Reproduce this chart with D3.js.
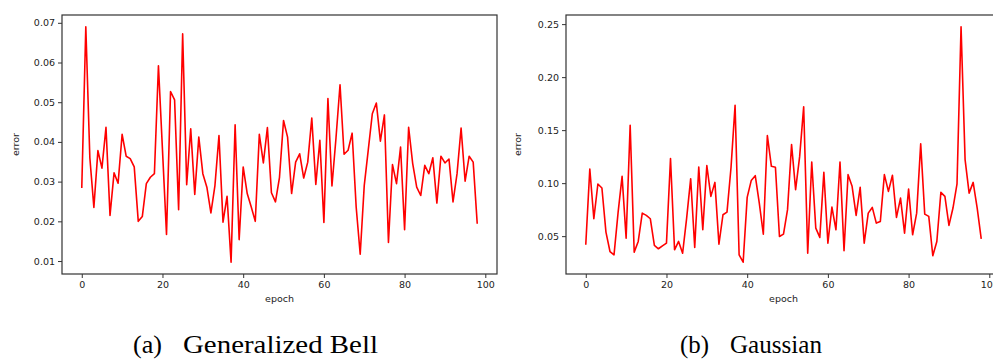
<!DOCTYPE html>
<html lang="en">

<head>
    <meta charset="utf-8">
    <title>Error per epoch: Generalized Bell vs Gaussian</title>
    <script src="https://d3js.org/d3.v7.min.js"></script>
    <style type="text/css">
        body { margin: 0; background: #fff; }
        .tick text { font-family: "DejaVu Sans", sans-serif; font-size: 9.5px; fill: #222; }
        .lbl { font-family: "DejaVu Sans", sans-serif; font-size: 9.5px; fill: #222; }
        .cap { font-family: "Liberation Serif", "Times New Roman", serif; font-size: 26px; fill: #000; }
    </style>
</head>

<body>
    <script type="text/javascript">

        //Width and height
        var w = 993;
        var h = 360;

        // error per epoch (epoch 0..98)
        var bellError = [0.0284, 0.0690, 0.0360, 0.0235, 0.0378, 0.0334, 0.0437, 0.0215, 0.0322, 0.0296,
            0.0419, 0.0364, 0.0358, 0.0337, 0.0200, 0.0212, 0.0295, 0.0311, 0.0320, 0.0592,
            0.0380, 0.0167, 0.0527, 0.0506, 0.0229, 0.0672, 0.0292, 0.0433, 0.0268, 0.0412,
            0.0320, 0.0286, 0.0221, 0.0290, 0.0416, 0.0198, 0.0263, 0.0097, 0.0443, 0.0154,
            0.0337, 0.0270, 0.0236, 0.0200, 0.0419, 0.0347, 0.0436, 0.0272, 0.0249, 0.0311,
            0.0454, 0.0412, 0.0270, 0.0349, 0.0370, 0.0309, 0.0349, 0.0460, 0.0293, 0.0404,
            0.0197, 0.0509, 0.0289, 0.0410, 0.0544, 0.0369, 0.0379, 0.0422, 0.0236, 0.0117,
            0.0290, 0.0380, 0.0471, 0.0498, 0.0402, 0.0468, 0.0147, 0.0343, 0.0295, 0.0387,
            0.0179, 0.0437, 0.0346, 0.0286, 0.0265, 0.0341, 0.0320, 0.0360, 0.0246, 0.0364,
            0.0347, 0.0357, 0.0249, 0.0320, 0.0435, 0.0301, 0.0364, 0.0349, 0.0194];

        var gaussError = [0.0419, 0.1133, 0.0664, 0.0992, 0.0954, 0.0538, 0.0355, 0.0324, 0.0720, 0.1064,
            0.0480, 0.1546, 0.0349, 0.0450, 0.0717, 0.0696, 0.0664, 0.0412, 0.0381, 0.0409,
            0.0434, 0.1232, 0.0371, 0.0450, 0.0339, 0.0670, 0.1042, 0.0393, 0.1152, 0.0560,
            0.1165, 0.0875, 0.1007, 0.0424, 0.0702, 0.0727, 0.1150, 0.1735, 0.0324, 0.0254,
            0.0866, 0.1024, 0.1070, 0.0812, 0.0519, 0.1449, 0.1159, 0.1150, 0.0497, 0.0519,
            0.0750, 0.1364, 0.0938, 0.1250, 0.1720, 0.0339, 0.1200, 0.0576, 0.0488, 0.1102,
            0.0434, 0.0774, 0.0560, 0.1200, 0.0362, 0.1080, 0.0970, 0.0696, 0.0960, 0.0434,
            0.0717, 0.0771, 0.0623, 0.0639, 0.1080, 0.0922, 0.1074, 0.0677, 0.0859, 0.0528,
            0.0944, 0.0513, 0.0717, 0.1370, 0.0708, 0.0686, 0.0315, 0.0450, 0.0913, 0.0875,
            0.0601, 0.0765, 0.0992, 0.2475, 0.1222, 0.0906, 0.1007, 0.0765, 0.0475];

        var xTicks = [0, 20, 40, 60, 80, 100];
        var bellYTicks = [0.01, 0.02, 0.03, 0.04, 0.05, 0.06, 0.07];
        var gaussYTicks = [0.05, 0.10, 0.15, 0.20, 0.25];
        var captions = [["(a)", "Generalized Bell"], ["(b)", "Gaussian"]];

        var svg = d3.select("body")
            .append("svg")
            .attr("width", w)
            .attr("height", h);

        // one panel per series; the right one runs off the page edge like the original
        var panels = [
            { data: bellError, ticks: bellYTicks, fmt: ".2f", left: 62, right: 497, labelX: 16 },
            { data: gaussError, ticks: gaussYTicks, fmt: ".2f", left: 566, right: 1001, labelX: 518 }
        ];
        var plotTop = 15, plotBottom = 274;

        panels.forEach(function (p, k) {
            var n = p.data.length;
            // matplotlib style 5% margins
            var xPad = (n - 1) * 0.05;
            var ext = d3.extent(p.data);
            var yPad = (ext[1] - ext[0]) * 0.05;

            var xScale = d3.scaleLinear()
                .domain([-xPad, n - 1 + xPad])
                .range([p.left, p.right]);

            var yScale = d3.scaleLinear()
                .domain([ext[0] - yPad, ext[1] + yPad])
                .range([plotBottom, plotTop]);

            var g = svg.append("g");

            g.append("g")
                .attr("transform", "translate(0," + plotBottom + ")")
                .call(d3.axisBottom(xScale).tickValues(xTicks).tickSize(4).tickPadding(3).tickFormat(d3.format("d")))
                .call(function (a) { a.select(".domain").remove(); });

            g.append("g")
                .attr("transform", "translate(" + p.left + ",0)")
                .call(d3.axisLeft(yScale).tickValues(p.ticks).tickSize(4).tickPadding(3).tickFormat(d3.format(p.fmt)))
                .call(function (a) { a.select(".domain").remove(); });

            g.selectAll(".tick line").attr("stroke", "#333");

            var line = d3.line()
                .x(function (d, i) { return xScale(i); })
                .y(function (d) { return yScale(d); });

            g.append("path")
                .datum(p.data)
                .attr("d", line)
                .attr("fill", "none")
                .attr("stroke", "#ff0000")
                .attr("stroke-width", 1.6)
                .attr("stroke-linejoin", "round");

            // frame
            g.append("rect")
                .attr("x", p.left)
                .attr("y", plotTop)
                .attr("width", p.right - p.left)
                .attr("height", plotBottom - plotTop)
                .attr("fill", "none")
                .attr("stroke", "#333")
                .attr("stroke-width", 1.2);

            g.append("text")
                .attr("class", "lbl")
                .attr("text-anchor", "middle")
                .attr("x", (p.left + p.right) / 2)
                .attr("y", 302)
                .text("epoch");

            g.append("text")
                .attr("class", "lbl")
                .attr("text-anchor", "middle")
                .attr("transform", "translate(" + (p.labelX + 3) + "," + ((plotTop + plotBottom) / 2) + ") rotate(-90)")
                .text("error");
        });

        // captions under each panel
        var capPos = [[133, 183, 195], [680, 730, 92]];
        captions.forEach(function (c, k) {
            svg.append("text")
                .attr("class", "cap")
                .attr("x", capPos[k][0])
                .attr("y", 353)
                .attr("textLength", 29)
                .attr("lengthAdjust", "spacingAndGlyphs")
                .text(c[0]);
            svg.append("text")
                .attr("class", "cap")
                .attr("x", capPos[k][1])
                .attr("y", 353)
                .attr("textLength", capPos[k][2])
                .attr("lengthAdjust", "spacingAndGlyphs")
                .text(c[1]);
        });

    </script>
</body>

</html>
